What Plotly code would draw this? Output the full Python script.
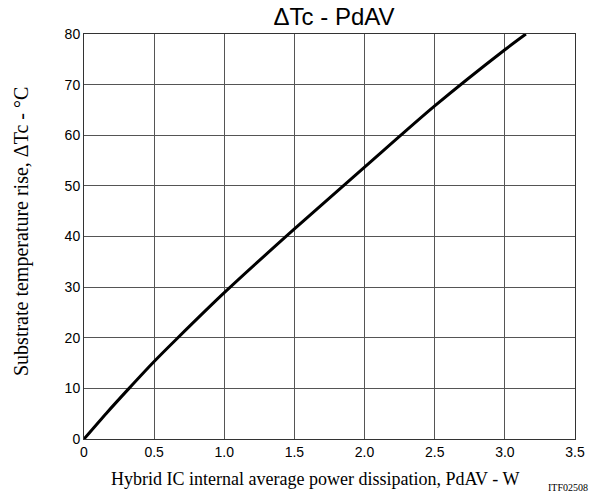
import plotly.graph_objects as go

power_w = [0, 0.16, 0.321, 0.5, 0.662, 1.0, 1.5, 2.0, 2.5, 3.0, 3.15]
delta_tc = [0, 5.1, 10.0, 15.3, 19.8, 28.9, 41.5, 53.7, 65.8, 76.9, 80.0]

x_tickvals = [0, 0.5, 1.0, 1.5, 2.0, 2.5, 3.0, 3.5]
x_ticktext = ["0", "0.5", "1.0", "1.5", "2.0", "2.5", "3.0", "3.5"]
y_tickvals = [0, 10, 20, 30, 40, 50, 60, 70, 80]

fig = go.Figure()
fig.add_trace(go.Scatter(x=power_w, y=delta_tc, mode="lines",
                         line=dict(color="black", width=3, shape="spline", smoothing=0.8),
                         showlegend=False, hoverinfo="skip", cliponaxis=True))

axis_common = dict(showgrid=True, gridcolor="#555555", gridwidth=1, showline=True,
                   linecolor="#333333", linewidth=1, mirror=True, zeroline=False,
                   automargin=False, ticks="",
                   tickfont=dict(family="Liberation Sans, Arial", size=14, color="black"))

fig.update_xaxes(range=[0, 3.5], tickvals=x_tickvals, ticktext=x_ticktext, **axis_common)
fig.update_yaxes(range=[0, 80], tickvals=y_tickvals, **axis_common)

fig.update_layout(
    width=590, height=497,
    margin=dict(l=84, r=15, t=34, b=58, autoexpand=False),
    plot_bgcolor="white", paper_bgcolor="white",
    title=dict(text="ΔTc - PdAV", x=334 / 590, xanchor="center",
               y=1 - 17 / 497, yanchor="middle", automargin=False,
               font=dict(family="Liberation Sans, Arial", size=24, color="black")),
    annotations=[
        dict(text="Hybrid IC internal average power dissipation, PdAV - W",
             xref="paper", yref="paper", x=(315 - 84) / 491, y=-(479 - 439) / 405,
             xanchor="center", yanchor="middle", showarrow=False,
             font=dict(family="Liberation Serif, Times New Roman", size=18, color="black")),
        dict(text="Substrate temperature rise, ΔTc - °C",
             xref="paper", yref="paper", x=-(84 - 21) / 491, y=(439 - 232) / 405,
             xanchor="center", yanchor="middle", showarrow=False, textangle=-90,
             font=dict(family="Liberation Serif, Times New Roman", size=20, color="black")),
        dict(text="ITF02508",
             xref="paper", yref="paper", x=(590 - 84) / 491, y=-(488 - 439) / 405,
             xanchor="right", yanchor="middle", showarrow=False,
             font=dict(family="Liberation Serif, Times New Roman", size=10, color="black")),
    ],
)

fig.write_html("out.html", config={"displayModeBar": False},
               post_script="document.body.style.margin='0';document.body.style.overflow='hidden';")
